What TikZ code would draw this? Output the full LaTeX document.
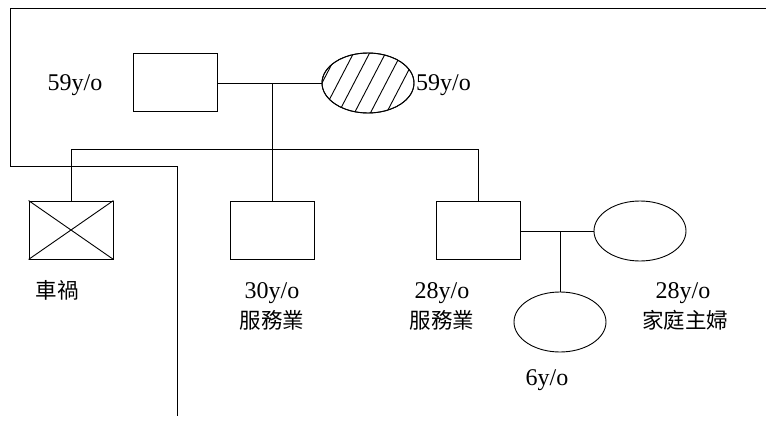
\documentclass[tikz,border=0pt]{standalone}
\usepackage{fontspec}
\setmainfont{Liberation Serif}
\newfontfamily\cjk{Noto Sans CJK TC}
\usetikzlibrary{shapes.geometric}
\tikzset{
  line/.style={line width=0.9pt, black},
  male/.style={draw, line width=0.9pt, rectangle, minimum width=84pt, minimum height=58pt, inner sep=0pt},
  female/.style={draw, line width=0.9pt, ellipse, minimum width=92pt, minimum height=60pt, inner sep=0pt},
  lab/.style={font=\fontsize{24}{28}\selectfont, inner sep=0pt, anchor=base},
  zh/.style={font=\cjk\fontsize{21.5}{24}\selectfont, inner sep=0pt},
}
\begin{document}
\begin{tikzpicture}[x=1pt, y=-1pt]
\useasboundingbox (0,0) rectangle (766,423);

% frame lines
\coordinate (f1) at (10,8);
\coordinate (f0) at (766,8);
\coordinate (f2) at (10,166);
\coordinate (f3) at (177,166);
\coordinate (f4) at (177,416);
\draw[line] (f0) -- (f1) -- (f2) -- (f3) -- (f4);

% grandparents
\node[male] (gf) at (175,82) {};
\node[female] (gm) at (368,83) {};
\begin{scope}
  \clip (368,83) ellipse [x radius=46, y radius=30];
  \foreach \i in {-4,...,4}
    \draw[line] ({370+\i*16-0.52*40},123) -- ({370+\i*16+0.52*40},43);
\end{scope}
\node[female] at (368,83) {};
\node[lab] (gfl) at (75,90) {59y/o};
\node[lab, anchor=base west] (gml) at (416,90) {59y/o};

% parents' union line and descent
\coordinate (u1) at (272,83);
\draw[line] (gf.east |- u1) -- (gm.west |- u1);
\coordinate (sib) at (272,149);
\draw[line] (u1) -- (sib);

% children
\node[male] (c1) at (71,230) {};
\draw[line] (c1.north west) -- (c1.south east);
\draw[line] (c1.north east) -- (c1.south west);
\node[male] (c2) at (272,230) {};
\node[male] (c3) at (478,230) {};
\coordinate (s1) at (71,149);
\coordinate (s3) at (478,149);
\draw[line] (c1.north) -- (s1) -- (s3) -- (c3.north);
\draw[line] (sib) -- (c2.north);

\node[zh] (c1l) at (57,290) {車禍};
\node[lab] (c2a) at (272,298) {30y/o};
\node[zh] (c2b) at (272,320) {服務業};
\node[lab] (c3a) at (442,298) {28y/o};
\node[zh] (c3b) at (442,320) {服務業};

% spouse and grandchild
\node[female] (w) at (640,231) {};
\coordinate (u2) at (560,231);
\draw[line] (c3.east |- u2) -- (w.west |- u2);
\node[female] (k) at (560,322) {};
\draw[line] (u2) -- (k.north);
\node[lab] (wa) at (683,298) {28y/o};
\node[zh] (wb) at (685,320) {家庭主婦};
\node[lab] (kl) at (547,385) {6y/o};
\end{tikzpicture}
\end{document}
